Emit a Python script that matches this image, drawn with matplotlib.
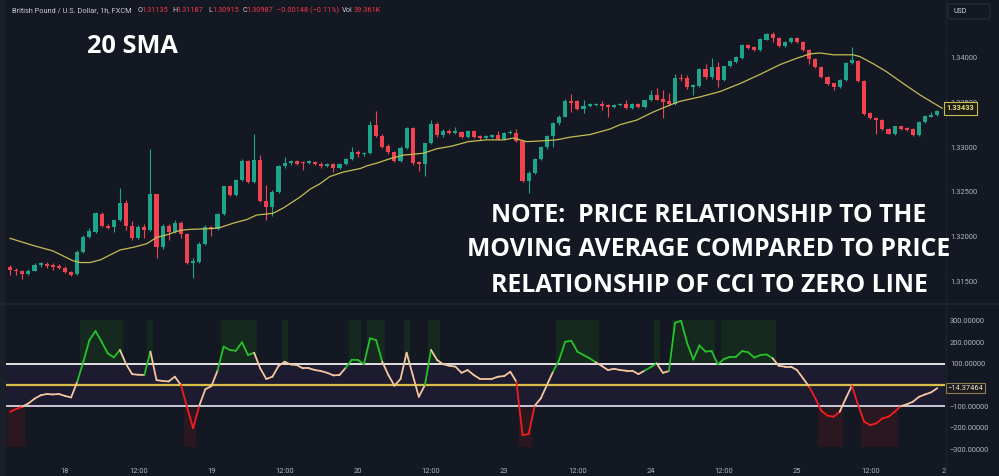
import numpy as np
import matplotlib.pyplot as plt
from matplotlib.collections import LineCollection
from matplotlib.patches import Rectangle, FancyBboxPatch
from matplotlib.lines import Line2D

# GBP/USD 1h candles, bar 0 = 17th 15:00
opens = [1.3166, 1.3163, 1.3161, 1.3158, 1.3162, 1.3168, 1.3169, 1.3168, 1.3167, 1.3165,
         1.3160, 1.3158, 1.3183, 1.3199, 1.3205, 1.3225, 1.3212, 1.3211, 1.3218, 1.3237,
         1.3212, 1.3198, 1.3211, 1.3207, 1.3247, 1.3188, 1.3212, 1.3205, 1.3215, 1.3203,
         1.3171, 1.3172, 1.3192, 1.3211, 1.3208, 1.3225, 1.3256, 1.3246, 1.3263, 1.3284,
         1.3261, 1.3286, 1.3240, 1.3233, 1.3250, 1.3279, 1.3282, 1.3284, 1.3283, 1.3282,
         1.3283, 1.3281, 1.3279, 1.3281, 1.3277, 1.3281, 1.3287, 1.3294, 1.3292, 1.3293,
         1.3325, 1.3312, 1.3301, 1.3294, 1.3284, 1.3299, 1.3321, 1.3283, 1.3281, 1.3304,
         1.3326, 1.3313, 1.3318, 1.3316, 1.3317, 1.3311, 1.3318, 1.3312, 1.3310, 1.3311,
         1.3313, 1.3309, 1.3316, 1.3316, 1.3307, 1.3262, 1.3271, 1.3287, 1.3300, 1.3312,
         1.3327, 1.3334, 1.3351, 1.3351, 1.3342, 1.3346, 1.3347, 1.3348, 1.3347, 1.3345,
         1.3347, 1.3348, 1.3344, 1.3348, 1.3345, 1.3352, 1.3358, 1.3354, 1.3351, 1.3348,
         1.3377, 1.3377, 1.3367, 1.3368, 1.3387, 1.3378, 1.3389, 1.3375, 1.3390, 1.3395,
         1.3399, 1.3414, 1.3412, 1.3408, 1.3420, 1.3426, 1.3422, 1.3413, 1.3417, 1.3422,
         1.3417, 1.3408, 1.3398, 1.3389, 1.3378, 1.3371, 1.3367, 1.3375, 1.3394, 1.3396,
         1.3374, 1.3338, 1.3332, 1.3330, 1.3320, 1.3315, 1.3323, 1.3321, 1.3320, 1.3313,
         1.3328, 1.3334, 1.3336]
highs = [1.3168, 1.3165, 1.3163, 1.3164, 1.3170, 1.3172, 1.3172, 1.3170, 1.3169, 1.3167,
         1.3161, 1.3185, 1.3202, 1.3210, 1.3227, 1.3227, 1.3214, 1.3219, 1.3254, 1.3241,
         1.3217, 1.3213, 1.3214, 1.3298, 1.3248, 1.3214, 1.3214, 1.3218, 1.3217, 1.3204,
         1.3176, 1.3194, 1.3213, 1.3212, 1.3226, 1.3257, 1.3258, 1.3264, 1.3287, 1.3286,
         1.3315, 1.3291, 1.3258, 1.3252, 1.3280, 1.3289, 1.3286, 1.3286, 1.3284, 1.3285,
         1.3284, 1.3283, 1.3282, 1.3282, 1.3282, 1.3288, 1.3300, 1.3297, 1.3294, 1.3329,
         1.3340, 1.3314, 1.3303, 1.3296, 1.3301, 1.3322, 1.3322, 1.3284, 1.3305, 1.3330,
         1.3328, 1.3320, 1.3320, 1.3322, 1.3318, 1.3319, 1.3319, 1.3313, 1.3313, 1.3315,
         1.3318, 1.3317, 1.3319, 1.3320, 1.3308, 1.3273, 1.3288, 1.3301, 1.3313, 1.3328,
         1.3336, 1.3354, 1.3359, 1.3352, 1.3353, 1.3349, 1.3349, 1.3351, 1.3348, 1.3348,
         1.3349, 1.3353, 1.3349, 1.3349, 1.3353, 1.3364, 1.3366, 1.3364, 1.3360, 1.3382,
         1.3381, 1.3380, 1.3370, 1.3388, 1.3393, 1.3399, 1.3395, 1.3391, 1.3397, 1.3402,
         1.3415, 1.3415, 1.3413, 1.3422, 1.3427, 1.3429, 1.3423, 1.3418, 1.3423, 1.3423,
         1.3418, 1.3409, 1.3399, 1.3390, 1.3379, 1.3372, 1.3376, 1.3395, 1.3412, 1.3397,
         1.3375, 1.3339, 1.3333, 1.3331, 1.3321, 1.3324, 1.3324, 1.3322, 1.3321, 1.3329,
         1.3336, 1.3339, 1.3341]
lows = [1.3157, 1.3157, 1.3153, 1.3157, 1.3161, 1.3166, 1.3165, 1.3163, 1.3164, 1.3159,
        1.3156, 1.3157, 1.3182, 1.3198, 1.3204, 1.3211, 1.3209, 1.3205, 1.3217, 1.3207,
        1.3196, 1.3197, 1.3198, 1.3206, 1.3176, 1.3186, 1.3196, 1.3204, 1.3198, 1.3169,
        1.3154, 1.3171, 1.3191, 1.3201, 1.3207, 1.3224, 1.3245, 1.3245, 1.3262, 1.3260,
        1.3260, 1.3239, 1.3219, 1.3223, 1.3249, 1.3277, 1.3280, 1.3280, 1.3274, 1.3281,
        1.3280, 1.3277, 1.3278, 1.3272, 1.3276, 1.3280, 1.3286, 1.3289, 1.3290, 1.3292,
        1.3311, 1.3299, 1.3292, 1.3283, 1.3283, 1.3298, 1.3280, 1.3273, 1.3268, 1.3303,
        1.3311, 1.3311, 1.3314, 1.3314, 1.3310, 1.3310, 1.3310, 1.3308, 1.3309, 1.3310,
        1.3308, 1.3308, 1.3315, 1.3306, 1.3261, 1.3249, 1.3270, 1.3286, 1.3298, 1.3300,
        1.3325, 1.3333, 1.3339, 1.3341, 1.3338, 1.3345, 1.3346, 1.3341, 1.3334, 1.3344,
        1.3346, 1.3343, 1.3343, 1.3344, 1.3344, 1.3351, 1.3352, 1.3332, 1.3346, 1.3347,
        1.3374, 1.3365, 1.3358, 1.3367, 1.3376, 1.3376, 1.3367, 1.3374, 1.3389, 1.3394,
        1.3398, 1.3410, 1.3407, 1.3407, 1.3419, 1.3417, 1.3412, 1.3412, 1.3416, 1.3416,
        1.3407, 1.3393, 1.3388, 1.3377, 1.3369, 1.3364, 1.3366, 1.3374, 1.3393, 1.3373,
        1.3336, 1.3331, 1.3314, 1.3319, 1.3314, 1.3313, 1.3319, 1.3318, 1.3312, 1.3312,
        1.3327, 1.3333, 1.3335]
closes = [1.3163, 1.3161, 1.3158, 1.3162, 1.3168, 1.3170, 1.3167, 1.3166, 1.3165, 1.3160,
          1.3157, 1.3183, 1.3199, 1.3206, 1.3226, 1.3212, 1.3210, 1.3218, 1.3237, 1.3212,
          1.3198, 1.3211, 1.3207, 1.3247, 1.3188, 1.3212, 1.3205, 1.3215, 1.3203, 1.3171,
          1.3173, 1.3192, 1.3211, 1.3208, 1.3225, 1.3256, 1.3246, 1.3263, 1.3284, 1.3261,
          1.3286, 1.3240, 1.3233, 1.3250, 1.3279, 1.3282, 1.3284, 1.3281, 1.3282, 1.3284,
          1.3281, 1.3279, 1.3281, 1.3277, 1.3281, 1.3287, 1.3294, 1.3292, 1.3293, 1.3325,
          1.3312, 1.3300, 1.3294, 1.3284, 1.3299, 1.3321, 1.3282, 1.3281, 1.3304, 1.3326,
          1.3313, 1.3318, 1.3316, 1.3318, 1.3311, 1.3318, 1.3311, 1.3310, 1.3312, 1.3313,
          1.3309, 1.3316, 1.3317, 1.3307, 1.3262, 1.3271, 1.3287, 1.3300, 1.3312, 1.3327,
          1.3334, 1.3351, 1.3349, 1.3342, 1.3346, 1.3348, 1.3348, 1.3346, 1.3345, 1.3347,
          1.3348, 1.3344, 1.3348, 1.3345, 1.3352, 1.3358, 1.3353, 1.3350, 1.3348, 1.3377,
          1.3376, 1.3367, 1.3369, 1.3387, 1.3378, 1.3389, 1.3375, 1.3390, 1.3396, 1.3400,
          1.3414, 1.3411, 1.3408, 1.3421, 1.3426, 1.3422, 1.3413, 1.3417, 1.3422, 1.3417,
          1.3408, 1.3398, 1.3389, 1.3378, 1.3370, 1.3367, 1.3375, 1.3394, 1.3397, 1.3374,
          1.3337, 1.3332, 1.3330, 1.3320, 1.3315, 1.3323, 1.3320, 1.3319, 1.3313, 1.3328,
          1.3335, 1.3336, 1.3340]

# 20 SMA (bar position, value)
sma_t = [0, 3.8, 7, 10.3, 11.5, 13.1, 14.8, 18, 20.2, 22.4, 24, 25.7, 27.9, 29.5, 33.3,
         34.4, 36.6, 38.8, 40.4, 43.1, 44.8, 47.5, 49.2, 50.8, 52.4, 54.6, 57.4, 58.5, 60.1,
         62.3, 64.5, 67.7, 69.9, 72.4, 75.1, 78.1, 80.9, 82.5, 83.6, 84.7, 87.5, 89.6, 91.8,
         95.1, 98.3, 100, 101.6, 102.7, 105.4, 108.2, 109.8, 113.1, 116.4, 119.7, 122.9,
         126.2, 128.9, 131.1, 132.8, 135, 138.2, 139.3, 141.5, 143.7, 146.4, 149.2, 151.4, 152.8]
sma_v = [1.3198, 1.3190, 1.3184, 1.3173, 1.3171, 1.3171, 1.3174, 1.3185, 1.3188, 1.3192,
         1.3199, 1.3202, 1.3207, 1.3208, 1.3209, 1.3210, 1.3215, 1.3219, 1.3224, 1.3226,
         1.3232, 1.3244, 1.3253, 1.3259, 1.3267, 1.3272, 1.3276, 1.3279, 1.3282, 1.3287,
         1.3291, 1.3293, 1.3298, 1.3301, 1.3306, 1.3308, 1.3308, 1.3310, 1.3308, 1.3306,
         1.3307, 1.3308, 1.3311, 1.3314, 1.3320, 1.3325, 1.3328, 1.3330, 1.3339, 1.3347,
         1.3351, 1.3356, 1.3362, 1.3371, 1.3381, 1.3392, 1.3399, 1.3404, 1.3405, 1.3403,
         1.3403, 1.3401, 1.3393, 1.3384, 1.3371, 1.3358, 1.3349, 1.33433]

cci = [-125, -112, -101, -86, -64, -48, -42, -44, -42, -51,
       -58, 15, 109, 210, 252, 202, 148, 129, 164, 98,
       51, 48, 47, 156, 23, 19, 17, 39, 0, -104,
       -202, -97, -20, -5, 67, 179, 164, 160, 200, 140,
       151, 78, 28, 39, 89, 109, 96, 93, 78, 78,
       70, 65, 57, 45, 47, 80, 118, 117, 98, 218,
       210, 109, 47, -3, 28, 151, 47, -55, 0, 164,
       117, 97, 90, 86, 57, 70, 47, 29, 29, 29,
       39, 42, 62, 15, -234, -229, -97, -62, 0, 62,
       117, 202, 207, 156, 140, 125, 106, 89, 70, 76,
       70, 67, 67, 51, 67, 83, 101, 57, 65, 291,
       300, 195, 119, 185, 156, 159, 97, 121, 132, 132,
       159, 153, 128, 140, 143, 125, 90, 86, 86, 70,
       31, -8, -62, -121, -143, -148, -125, -62, -3, -93,
       -171, -187, -179, -156, -148, -125, -99, -90, -78, -55,
       -44, -34, -14.37464]

# colour state of the CCI line: (first bar, last bar, state)
cci_runs = [(0, 2, 'down'), (2, 11, 'flat'), (11, 18, 'up'), (18, 22, 'flat'),
            (22, 23, 'up'), (23, 28, 'flat'), (28, 31, 'down'), (31, 34, 'flat'),
            (34, 40, 'up'), (40, 55, 'flat'), (55, 61, 'up'), (61, 68, 'flat'),
            (68, 69, 'up'), (69, 83, 'flat'), (83, 86, 'down'), (86, 89, 'flat'),
            (89, 96, 'up'), (96, 104, 'flat'), (104, 106, 'up'), (106, 108, 'flat'),
            (108, 125, 'up'), (125, 131, 'flat'), (131, 136, 'down'), (136, 138, 'flat'),
            (138, 146, 'down'), (146, 152, 'flat')]

tick_bars = [9, 21, 33, 45, 57, 69, 81, 93, 105, 117, 129, 141, 153]
tick_labels = ['18', '12:00', '19', '12:00', '20', '12:00', '23', '12:00',
               '24', '12:00', '25', '12:00', '2']

price_ticks = [1.315, 1.320, 1.325, 1.330, 1.335, 1.340]
cci_ticks = [-300, -200, -100, 100, 200, 300]

W, H = 999, 476
BG = '#141823'
TXT = '#b2b5be'
UP, DN = '#1fa48c', '#f0434f'
state_col = {'up': '#25c229', 'down': '#f21d1d', 'flat': '#f4c6a0'}


def fx(x):
    return x / W


def fy(y):
    return 1 - y / H


fig = plt.figure(figsize=(W / 100, H / 100), dpi=100, facecolor=BG)
ax1 = fig.add_axes([0, fy(303), fx(945), 303 / H])
ax2 = fig.add_axes([0, fy(458), fx(945), (458 - 305) / H])

x = np.arange(len(opens))
o, h, l, c = map(np.array, (opens, highs, lows, closes))
up = c >= o
cols = np.where(up, UP, DN)

for ax in (ax1, ax2):
    ax.set_facecolor(BG)
    for s in ax.spines.values():
        s.set_visible(False)
    ax.set_xlim(-1.66, 153.26)
    ax.yaxis.tick_right()
    ax.tick_params(axis='both', length=0, colors=TXT, labelsize=5.4, pad=3.5)

# price pane
ax1.vlines(x, l, h, colors=cols, lw=0.8, zorder=2)
ax1.bar(x, np.maximum(np.abs(c - o), 0.00006), bottom=np.minimum(o, c), width=0.68,
        color=cols, zorder=3, linewidth=0)
ax1.plot(sma_t, sma_v, color='#c4bd55', lw=0.9, zorder=4)
ax1.set_ylim(1.31258, 1.34642)
ax1.set_yticks(price_ticks)
ax1.set_yticklabels([f'{v:.5f}' for v in price_ticks], fontfamily='Roboto')
ax1.set_xticks([])

# CCI pane
ax2.set_ylim(-341, 374)
ax2.axhspan(-100, 100, color='#1d1b30', zorder=0, lw=0)
cci_a = np.array(cci)
for i, v in enumerate(cci_a):
    if v > 100:
        ax2.bar(i, 204, bottom=100, width=1, color='#15291f', lw=0, zorder=0.5)
    elif v < -100:
        ax2.bar(i, -190, bottom=-100, width=1, color='#2b1720', lw=0, zorder=0.5)
ax2.axhline(100, color='#f2f2f2', lw=1.3, zorder=1)
ax2.axhline(-100, color='#d6d6e4', lw=1.3, zorder=1)
ax2.axhline(0, color='#d8bd46', lw=1.6, zorder=1)

segs, seg_cols = [], []
for a, b, st in cci_runs:
    for i in range(a, b):
        segs.append([(i, cci_a[i]), (i + 1, cci_a[i + 1])])
        seg_cols.append(state_col[st])
ax2.add_collection(LineCollection(segs, colors=seg_cols, lw=1.3, zorder=3,
                                  capstyle='round', joinstyle='round'))
ax2.set_yticks(cci_ticks)
ax2.set_yticklabels([f'{v:.5f}'.replace('-', '\u2212') for v in cci_ticks],
                    fontfamily='Roboto')
ax2.set_xticks(tick_bars)
ax2.set_xticklabels(tick_labels, fontfamily='Roboto')
ax2.tick_params(axis='x', pad=7.5)

# separators and left strip
fig.add_artist(Line2D([0, 1], [fy(304), fy(304)], color='#21252f', lw=1.5))
fig.add_artist(Line2D([fx(945.5), fx(945.5)], [0, 1], color='#1e222d', lw=1))
fig.add_artist(Rectangle((0, 0), fx(6), 1, transform=fig.transFigure,
                         color='#1b1f2a', lw=0))

# legend line
pieces = [('British Pound / U.S. Dollar, 1h, FXCM', 11.7, '#c8cad2'),
          ('O', 137.3, '#c8cad2'), ('1.31135', 141.7, '#f23645'),
          ('H', 172.7, '#c8cad2'), ('1.31187', 176.7, '#f23645'),
          ('L', 208.3, '#c8cad2'), ('1.30915', 212.0, '#f23645'),
          ('C', 242.3, '#c8cad2'), ('1.30987', 246.7, '#f23645'),
          ('\u22120.00148 (\u22120.11%)', 277.3, '#f23645'),
          ('Vol', 341.7, '#c8cad2'), ('39.361K', 353.3, '#f23645')]
for s, px, col in pieces:
    fig.text(fx(px), fy(10.5), s, color=col, fontsize=5.3, va='center',
             fontfamily='Roboto')

# USD box
fig.add_artist(FancyBboxPatch((fx(948), fy(19)), fx(42), 15 / H,
                              boxstyle='round,pad=0,rounding_size=0.004',
                              transform=fig.transFigure, fc=BG, ec='#2a2e39', lw=0.8))
fig.text(fx(953), fy(11.3), 'USD', color='#d1d4dc', fontsize=5, va='center',
         fontfamily='Roboto')

# last value labels
fig.text(fx(946.5), fy(108.3), '1.33433', color='#e8dc6a', fontsize=5.4, va='center',
         fontfamily='Roboto', fontweight='bold', zorder=10,
         bbox=dict(boxstyle='square,pad=0.3', fc='#1a1b1a', ec='#c8be52', lw=0.8))
fig.text(fx(947.5), fy(388), '\u221214.37464', color='#e9dfc8', fontsize=5.4,
         va='center', fontfamily='Roboto', zorder=10,
         bbox=dict(boxstyle='square,pad=0.25', fc='#1c1b1e', ec='#8c7c52', lw=0.8))

# annotations
fig.text(fx(87), fy(53), '20 SMA', color='white', fontsize=18.3, fontweight='bold',
         fontfamily='Open Sans', va='baseline')
note = ['NOTE:  PRICE RELATIONSHIP TO THE',
        'MOVING AVERAGE COMPARED TO PRICE',
        'RELATIONSHIP OF CCI TO ZERO LINE']
for k, line in enumerate(note):
    fig.text(fx(709), fy(221.5 + 35 * k), line, color='white', fontsize=17.8,
             fontweight='bold', fontfamily='Open Sans', ha='center', va='baseline')

fig.savefig('out.png', dpi=100, facecolor=BG)
